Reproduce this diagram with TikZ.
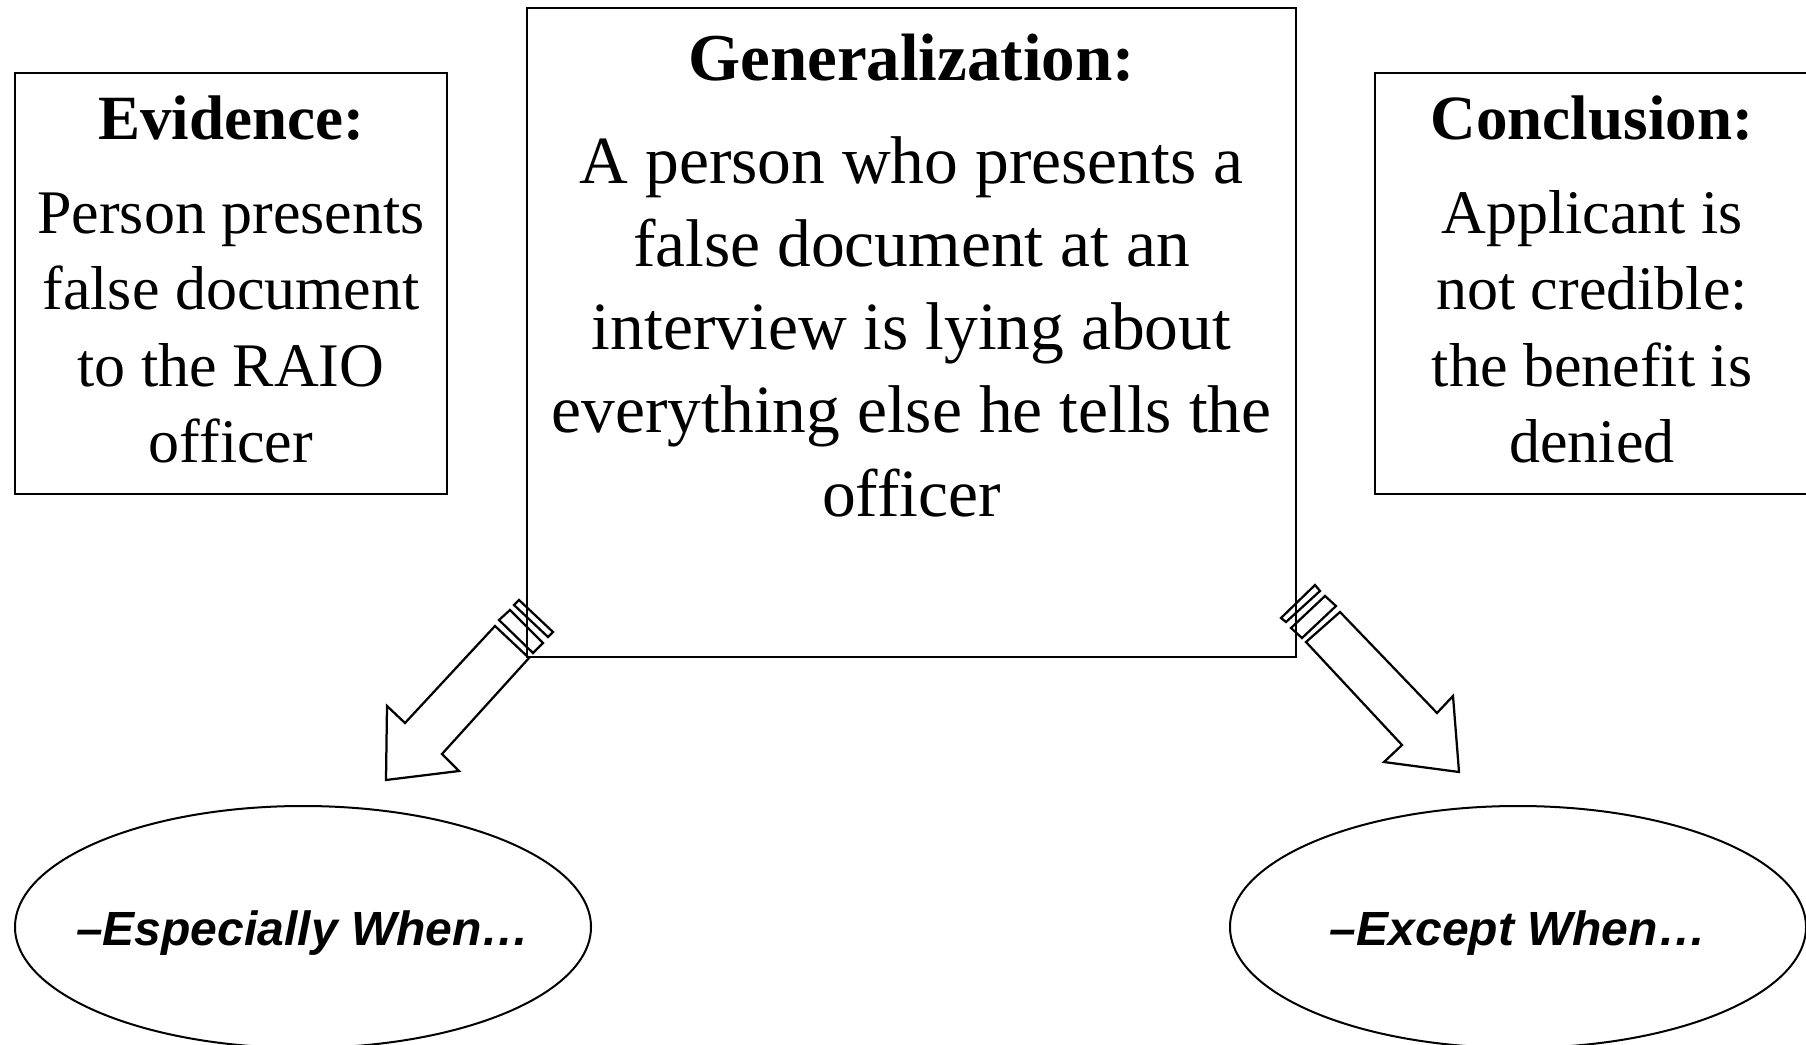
\documentclass[tikz,border=0pt]{standalone}
\usepackage{fontspec}
\setmainfont{Liberation Serif}
\newfontfamily\labelsans{Liberation Sans}
\usetikzlibrary{shapes.geometric}
\begin{document}
\begin{tikzpicture}[x=0.4pt,y=-0.4pt,
  boxframe/.style={draw, line width=0.8pt, inner sep=0pt, rectangle},
  ovalframe/.style={draw, line width=0.8pt, inner sep=0pt, ellipse, minimum width=230.4pt, minimum height=96.8pt},
  smallhead/.style={font=\fontsize{25.2}{30.4}\selectfont\bfseries, inner sep=0pt, anchor=base},
  smallbody/.style={font=\fontsize{24.8}{30.4}\selectfont, align=center, inner sep=0pt, anchor=base},
  bighead/.style={font=\fontsize{26.8}{33.2}\selectfont\bfseries, inner sep=0pt, anchor=base},
  bigbody/.style={font=\fontsize{27}{33.2}\selectfont, align=center, inner sep=0pt, anchor=base},
  ovaltext/.style={font=\labelsans\fontsize{19.2}{23}\selectfont\bfseries\itshape, inner sep=0pt},
  blockarrow/.style={draw, line width=0.9pt, line join=miter}
]
\useasboundingbox (0,0) rectangle (1806,1045);
\fill[white] (0,0) rectangle (1806,1045);

% boxes
\node[boxframe, minimum width=172.8pt, minimum height=168.4pt] (evid) at (231,283.5) {};
\node[boxframe, minimum width=307.6pt, minimum height=259.6pt] (gen) at (911.5,332.5) {};
\node[boxframe, minimum width=173.6pt, minimum height=168.4pt] (concl) at (1592,283.5) {};

% texts (base anchor = baseline of the last line)
\node[smallhead] (evidh) at (231,140) {Evidence:};
\node[smallbody] (evidb) at (231,462) {Person presents\\false document\\to the RAIO\\officer};
\node[bighead] (genh) at (911.5,81) {Generalization:};
\node[bigbody] (genb) at (911.5,516) {A person who presents a\\false document at an\\interview is lying about\\everything else he tells the\\officer};
\node[smallhead] (conclh) at (1592,140) {Conclusion:};
\node[smallbody] (conclb) at (1592,462) {Applicant is\\not credible:\\the benefit is\\denied};

% ellipses
\node[ovalframe] (esp) at (303,927) {};
\node[ovaltext] (espt) at ([yshift=-2.4pt]esp.center) {–Especially When…};
\node[ovalframe] (exc) at (1518,927) {};
\node[ovaltext] (exct) at ([yshift=-2.4pt]exc.center) {–Except When…};

% left striped block arrow
\draw[blockarrow] (529,658) -- (442,754) -- (459,771) -- (386,780) -- (387,706) -- (405,723) -- (495,626) -- cycle;
\draw[blockarrow] (499,620) -- (510,610) -- (543,643) -- (533,653) -- cycle;
\draw[blockarrow] (514,605) -- (519,600) -- (553,632) -- (548,637) -- cycle;

% right striped block arrow
\draw[blockarrow] (1340,612) -- (1437,713) -- (1453,696) -- (1459,772) -- (1384,762) -- (1402,745) -- (1306,642) -- cycle;
\draw[blockarrow] (1291,628) -- (1325,596) -- (1336,606) -- (1302,638) -- cycle;
\draw[blockarrow] (1281,618) -- (1315,585) -- (1320,591) -- (1286,622) -- cycle;
\end{tikzpicture}
\end{document}
